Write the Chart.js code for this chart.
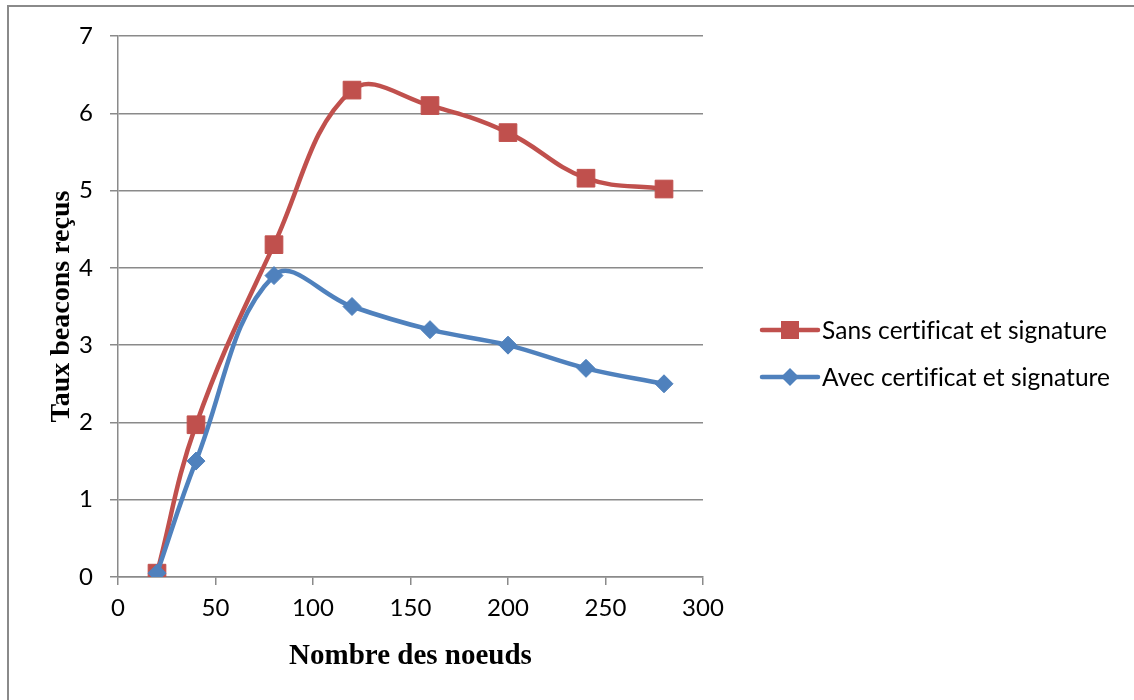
<!DOCTYPE html>
<html>
<head>
<meta charset="utf-8">
<script src="https://cdn.jsdelivr.net/npm/chart.js@4/dist/chart.umd.min.js"></script>
<style>
  html, body { margin: 0; padding: 0; background: #ffffff; }
  #wrap { position: relative; width: 1134px; height: 700px; }
</style>
</head>
<body>
<div id="wrap"><canvas id="chart" width="1134" height="700"></canvas></div>
<script>
// Number of nodes in the simulation
const nodes = [20, 40, 80, 120, 160, 200, 240, 280];
// Received beacon rate, without certificate and signature
const sansCertificat = [0.05, 1.97, 4.3, 6.3, 6.1, 5.75, 5.16, 5.02];
// Received beacon rate, with certificate and signature
const avecCertificat = [0.05, 1.5, 3.9, 3.5, 3.2, 3.0, 2.7, 2.5];

const seriesNames = ['Sans certificat et signature', 'Avec certificat et signature'];
const xTicks = [0, 50, 100, 150, 200, 250, 300];
const yTicks = [0, 1, 2, 3, 4, 5, 6, 7];

const RED = '#C0504D';
const BLUE = '#4F81BD';
const GRID = '#8A8A8A';
const TICK_FONT = "Lato, 'Open Sans', sans-serif";
const TITLE_FONT = "'Liberation Serif', 'DejaVu Serif', serif";

const toPoints = (xs, ys) => xs.map((x, i) => ({ x: x, y: ys[i] }));

// Outer frame around the whole chart
const framePlugin = {
  id: 'frame',
  beforeDraw(chart) {
    const ctx = chart.ctx;
    ctx.save();
    ctx.fillStyle = '#ffffff';
    ctx.fillRect(0, 0, chart.width, chart.height);
    ctx.strokeStyle = GRID;
    ctx.lineWidth = 2;
    ctx.strokeRect(8, 6, chart.width + 10, chart.height + 10);
    ctx.restore();
  }
};

// Legend on the right: a short line with the series marker, then the name
const legendPlugin = {
  id: 'sideLegend',
  afterDraw(chart) {
    const ctx = chart.ctx;
    const area = chart.chartArea;
    const x0 = area.right + 59;
    const lineLen = 56;
    const rows = [
      { label: seriesNames[0], color: RED, marker: 'rect', y: 330 },
      { label: seriesNames[1], color: BLUE, marker: 'diamond', y: 377 }
    ];
    ctx.save();
    rows.forEach(r => {
      ctx.strokeStyle = r.color;
      ctx.lineWidth = 4.5;
      ctx.lineCap = 'round';
      ctx.beginPath();
      ctx.moveTo(x0, r.y);
      ctx.lineTo(x0 + lineLen, r.y);
      ctx.stroke();
      const cx = x0 + lineLen / 2;
      ctx.fillStyle = r.color;
      ctx.beginPath();
      if (r.marker === 'rect') {
        ctx.rect(cx - 9, r.y - 9, 18, 18);
      } else {
        ctx.moveTo(cx - 9, r.y);
        ctx.lineTo(cx, r.y - 9);
        ctx.lineTo(cx + 9, r.y);
        ctx.lineTo(cx, r.y + 9);
        ctx.closePath();
      }
      ctx.fill();
      ctx.fillStyle = '#000000';
      ctx.font = '24.5px ' + TICK_FONT;
      if ('letterSpacing' in ctx) ctx.letterSpacing = '0.05px';
      ctx.textBaseline = 'middle';
      ctx.textAlign = 'left';
      ctx.fillText(r.label, x0 + lineLen + 4, r.y + 1);
    });
    ctx.restore();
  }
};

new Chart(document.getElementById('chart'), {
  type: 'line',
  data: {
    datasets: [
      {
        label: seriesNames[0],
        data: toPoints(nodes, sansCertificat),
        borderColor: RED,
        backgroundColor: RED,
        borderWidth: 4.5,
        tension: 0.4,
        pointStyle: 'rect',
        pointRadius: 12.5,
        pointBorderWidth: 1,
        pointBorderColor: RED,
        pointBackgroundColor: RED,
        order: 1
      },
      {
        label: seriesNames[1],
        data: toPoints(nodes, avecCertificat),
        borderColor: BLUE,
        backgroundColor: BLUE,
        borderWidth: 4.5,
        tension: 0.4,
        pointStyle: 'rectRot',
        pointRadius: 9,
        pointBorderWidth: 1,
        pointBorderColor: BLUE,
        pointBackgroundColor: BLUE,
        order: 0
      }
    ]
  },
  options: {
    responsive: false,
    animation: false,
    devicePixelRatio: 1,
    layout: { padding: { left: 45, top: 36, right: 431, bottom: 0 } },
    plugins: {
      legend: { display: false },
      tooltip: { enabled: false }
    },
    scales: {
      x: {
        type: 'linear',
        min: 0,
        max: 300,
        afterBuildTicks(scale) { scale.ticks = xTicks.map(v => ({ value: v })); },
        afterFit(scale) { scale.height = 123; },
        border: { display: true, color: GRID, width: 1.5 },
        grid: { drawOnChartArea: false, drawTicks: true, tickLength: 8, color: GRID, lineWidth: 1.5 },
        ticks: { color: '#000000', font: { family: TICK_FONT, size: 24 }, padding: 9, maxRotation: 0 },
        title: {
          display: true,
          text: 'Nombre des noeuds',
          color: '#000000',
          font: { family: TITLE_FONT, size: 29, weight: 'bold' },
          padding: { top: 0, bottom: 26 }
        }
      },
      y: {
        type: 'linear',
        min: 0,
        max: 7,
        afterBuildTicks(scale) { scale.ticks = yTicks.map(v => ({ value: v })); },
        afterFit(scale) { scale.width = 73; },
        border: { display: true, color: GRID, width: 1.5 },
        grid: { drawOnChartArea: true, drawTicks: true, tickLength: 8, color: GRID, lineWidth: 1.5 },
        ticks: { color: '#000000', font: { family: TICK_FONT, size: 24 }, padding: 17 },
        title: {
          display: true,
          text: 'Taux beacons reçus',
          color: '#000000',
          font: { family: TITLE_FONT, size: 28, weight: 'bold' },
          padding: { top: 0, bottom: 0 }
        }
      }
    }
  },
  plugins: [framePlugin, legendPlugin]
});
</script>
</body>
</html>
